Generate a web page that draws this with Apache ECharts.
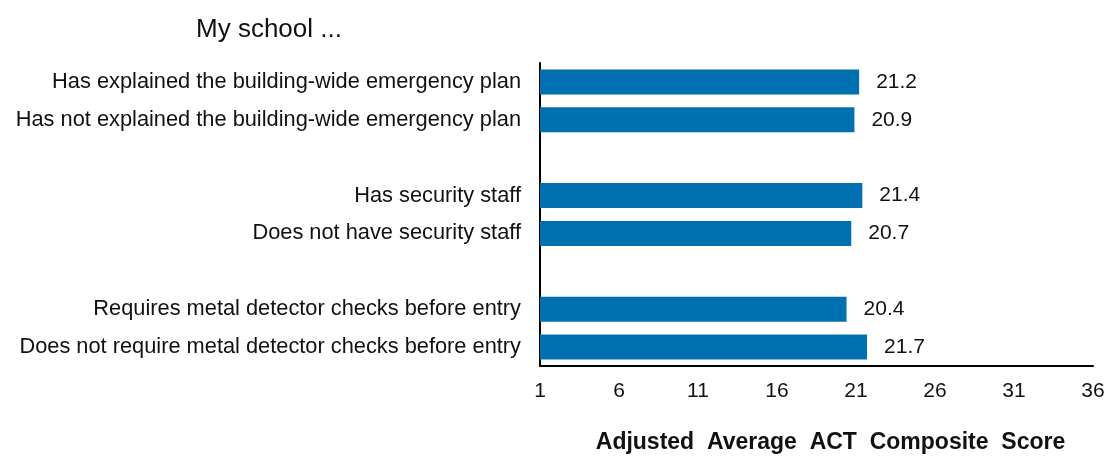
<!DOCTYPE html>
<html><head><meta charset="utf-8">
<script src="https://cdn.jsdelivr.net/npm/echarts@6/dist/echarts.min.js"></script>
<style>html,body{margin:0;padding:0;background:#fff}#c{width:1112px;height:457px}</style>
</head><body><div id="c"></div>
<script>
const categories = [
  "Has explained the building-wide emergency plan",
  "Has not explained the building-wide emergency plan",
  "",
  "Has security staff",
  "Does not have security staff",
  " ",
  "Requires metal detector checks before entry",
  "Does not require metal detector checks before entry"
];
const scores = [21.2, 20.9, null, 21.4, 20.7, null, 20.4, 21.7];
const xTicks = [1, 6, 11, 16, 21, 26, 31, 36];
const titleText = "My school ...";
const axisTitle = "Adjusted  Average  ACT  Composite  Score";

const chart = echarts.init(document.getElementById('c'), null, {renderer: 'canvas'});
const font = "'Liberation Sans', Arial, sans-serif";
chart.setOption({
  animation: false,
  title: {
    text: titleText, left: 191, top: 12,
    textStyle: {fontFamily: font, fontSize: 26, fontWeight: 'normal', color: '#111'}
  },
  grid: {left: 540, right: 19, top: 63, bottom: 91, containLabel: false, outerBoundsMode: 'none'},
  xAxis: {
    type: 'value', min: xTicks[0], max: xTicks[xTicks.length - 1], interval: 5,
    name: axisTitle, nameLocation: 'middle', nameGap: 65,
    nameTextStyle: {fontFamily: font, fontSize: 23, fontWeight: 'bold', color: '#111', padding: [0, 0, 0, 28]},
    axisLine: {show: true, lineStyle: {color: '#000', width: 2}},
    axisTick: {show: false},
    splitLine: {show: false},
    axisLabel: {fontFamily: font, fontSize: 21, color: '#111', margin: 15}
  },
  yAxis: {
    type: 'category', data: categories, inverse: true,
    axisLine: {show: true, lineStyle: {color: '#000', width: 2}},
    axisTick: {show: false},
    axisLabel: {fontFamily: font, fontSize: 21.8, color: '#111', margin: 19}
  },
  series: [{
    type: 'bar', data: scores, barWidth: 25,
    itemStyle: {color: '#0070B0'},
    label: {show: true, position: 'right', distance: 17, fontFamily: font, fontSize: 21, color: '#111',
      formatter: p => p.value.toFixed(1)}
  }]
});
</script></body></html>
